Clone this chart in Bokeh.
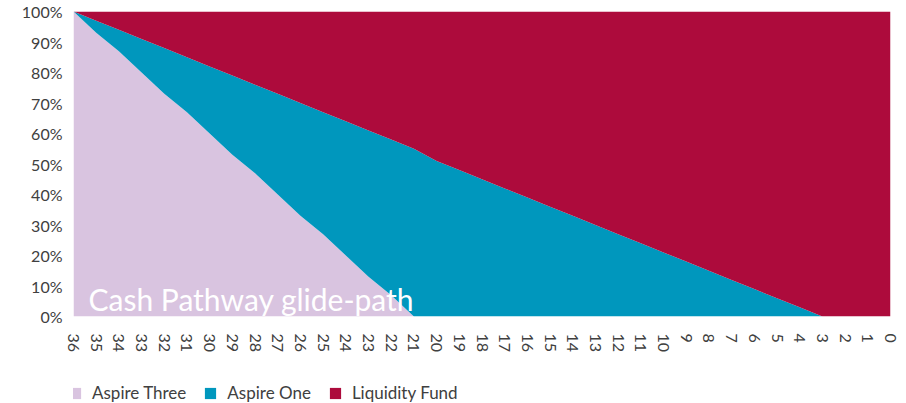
import math
from bokeh.plotting import figure
from bokeh.layouts import column
from bokeh.models import ColumnDataSource, Range1d, FixedTicker, Label, Legend, CustomJSTickFormatter
from bokeh.embed import file_html
from bokeh.resources import INLINE

years = list(range(36, -1, -1))
aspire_three = [100, 93, 87, 80, 73, 67, 60, 53, 47, 40, 33, 27, 20, 13, 7, 0,
                0, 0, 0, 0, 0, 0, 0, 0, 0, 0, 0, 0, 0, 0, 0, 0, 0, 0, 0, 0, 0]
aspire_one = [0, 4, 7, 11, 15, 18, 22, 26, 29, 33, 37, 40, 44, 48, 51, 55,
              51, 48, 45, 42, 39, 36, 33, 30, 27, 24, 21, 18, 15, 12, 9, 6, 3, 0, 0, 0, 0]
liquidity = [100 - a - b for a, b in zip(aspire_three, aspire_one)]
y_ticks = [0, 10, 20, 30, 40, 50, 60, 70, 80, 90, 100]
series_names = ["Aspire Three", "Aspire One", "Liquidity Fund"]
colors = ["#D9C4E0", "#0097BD", "#AD0B3C"]
title_text = "Cash Pathway glide-path"

FONT = "Lato"
TXT = "#404040"

source = ColumnDataSource(dict(year=years, three=aspire_three, one=aspire_one, liq=liquidity))

p = figure(width=902, height=372, output_backend="svg", toolbar_location=None,
           x_range=Range1d(36, 0), y_range=Range1d(0, 100),
           min_border_left=73, min_border_right=12, min_border_top=11, min_border_bottom=56)

renderers = p.varea_stack(["three", "one", "liq"], x="year", color=colors, source=source)

p.xgrid.visible = False
p.ygrid.visible = False
p.outline_line_color = None
p.background_fill_color = "white"

p.xaxis.ticker = FixedTicker(ticks=years)
p.xaxis.major_label_orientation = -math.pi / 2
p.xaxis.axis_line_color = None
p.xaxis.major_tick_line_color = None
p.xaxis.minor_tick_line_color = None
p.xaxis.major_label_standoff = 11
p.xaxis.major_label_text_font = FONT
p.xaxis.major_label_text_font_size = "16px"
p.xaxis.major_label_text_color = TXT

p.yaxis.ticker = FixedTicker(ticks=y_ticks)
p.yaxis.formatter = CustomJSTickFormatter(code="return tick + '%';")
p.yaxis.axis_line_color = None
p.yaxis.major_tick_line_color = None
p.yaxis.minor_tick_line_color = None
p.yaxis.major_label_standoff = 5
p.yaxis.major_label_text_font = FONT
p.yaxis.major_label_text_font_size = "16px"
p.yaxis.major_label_text_color = TXT

label = Label(x=15, y=18, x_units="screen", y_units="screen", text=title_text,
              text_font=FONT, text_font_size="30px", text_color="white",
              text_baseline="alphabetic")
p.add_layout(label)

# legend strip below the chart (same stacked series, view range kept off the data)
lg = figure(width=902, height=31, output_backend="svg", toolbar_location=None,
            x_range=Range1d(36, 0), y_range=Range1d(200, 201),
            x_axis_location=None, y_axis_location=None,
            min_border_left=0, min_border_right=0, min_border_top=0, min_border_bottom=0)
lg.grid.visible = False
lg.outline_line_color = None
swatches = lg.varea_stack(["three", "one", "liq"], x="year", color=colors, source=source)
legend = Legend(items=[(n, [r]) for n, r in zip(series_names, swatches)],
                orientation="horizontal", location=(-5, 0),
                label_text_font=FONT, label_text_font_size="17px", label_text_color=TXT,
                glyph_width=14, glyph_height=14, spacing=17, padding=0, margin=0,
                label_standoff=10, border_line_color=None, background_fill_alpha=0)
lg.add_layout(legend)

layout = column(p, lg)
open("out.html", "w").write(file_html(layout, INLINE))
